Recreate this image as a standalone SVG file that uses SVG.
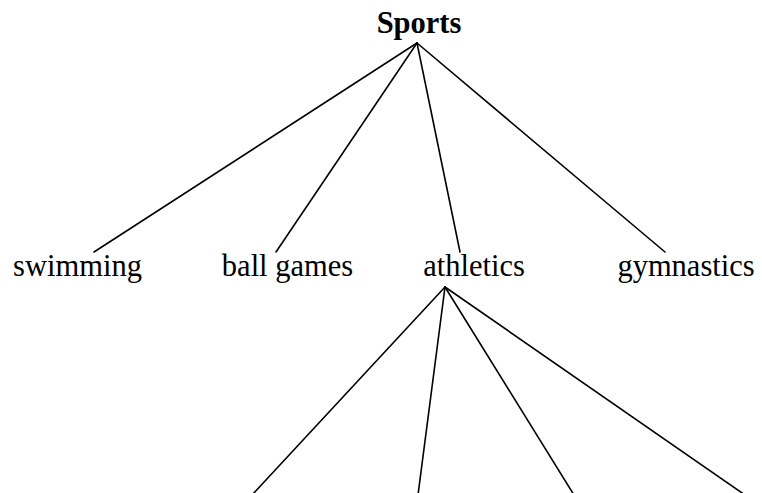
<svg xmlns="http://www.w3.org/2000/svg" width="762" height="493" viewBox="0 0 762 493">
  <style>
    .label { font-family: "Liberation Serif", "Times New Roman", serif; font-size: 30.5px; fill: #000; text-anchor: middle; }
    .root { font-weight: bold; }
    .edge { stroke: #000; stroke-width: 1.6; fill: none; stroke-linecap: round; }
  </style>
  <rect width="762" height="493" fill="#fff"/>
  <g id="connectors">
    <line class="edge" x1="417" y1="43" x2="94" y2="252"/>
    <line class="edge" x1="417" y1="43" x2="276" y2="252"/>
    <line class="edge" x1="417" y1="43" x2="460" y2="252"/>
    <line class="edge" x1="417" y1="43" x2="665" y2="252"/>
    <line class="edge" x1="445" y1="287" x2="252" y2="495"/>
    <line class="edge" x1="445" y1="287" x2="418" y2="495"/>
    <line class="edge" x1="445" y1="287" x2="574" y2="495"/>
    <line class="edge" x1="445" y1="287" x2="745" y2="495"/>
  </g>
  <g id="sports"><text class="label root" x="419" y="33">Sports</text></g>
  <g id="swimming"><text class="label" x="77.5" y="276">swimming</text></g>
  <g id="ball-games"><text class="label" x="287.5" y="276">ball games</text></g>
  <g id="athletics"><text class="label" x="474" y="276">athletics</text></g>
  <g id="gymnastics"><text class="label" x="686" y="276">gymnastics</text></g>
</svg>
